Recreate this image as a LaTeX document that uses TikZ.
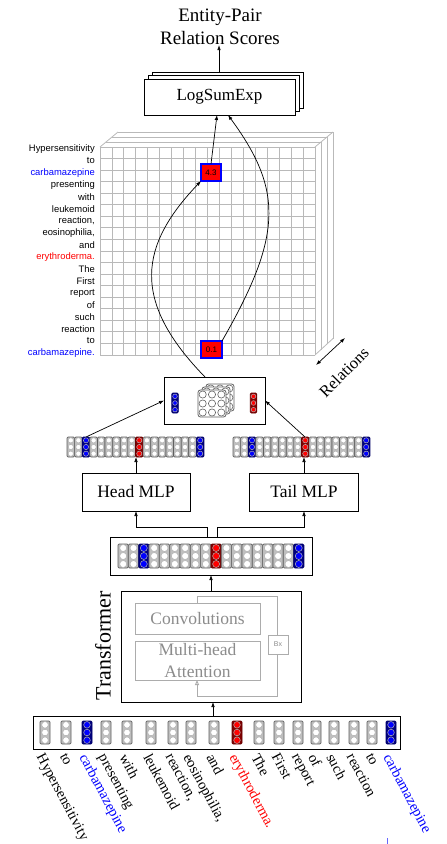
\documentclass[tikz,border=0pt]{standalone}
\usepackage{fontspec}
\setmainfont{Liberation Serif}
\newfontfamily\arialf{Liberation Sans}
\usetikzlibrary{arrows.meta}
\newcommand\mycell[8]{%
  \draw[fill=#6, draw=#8, line width=0.7pt, rounded corners=1.2pt] ({#1-#3/2},#2) rectangle ({#1+#3/2},{#2+#4});
  \foreach \kk in {1,3,5}{\draw[fill=#7, draw=gray!60, line width=0.5pt] ({#1},{#2+#4*\kk/6}) circle[radius=#5];}%
}
\newcommand\myrow[7]{% x0, ytop, w, h, r, count-1
  \foreach \i in {0,...,#6}{%
    \pgfmathsetmacro\cxx{#1+#3*(\i+0.5)}%
    \def\fc{gray!50}\def\dc{white}\def\bc{gray!75!black}%
    \ifnum\i=2 \def\fc{blue!50!black}\def\dc{blue}\def\bc{blue!40!black}\fi
    \ifnum\i=9 \def\fc{red!50!black}\def\dc{red}\def\bc{red!40!black}\fi
    \ifnum\i=17 \def\fc{blue!50!black}\def\dc{blue}\def\bc{blue!40!black}\fi
    \mycell{\cxx}{#2}{#3}{#4}{#5}{\fc}{\dc}{\bc}%
  }%
}
\begin{document}
\begin{tikzpicture}[x=1pt,y=-1pt,
  box/.style={draw, line width=0.9pt, fill=white, inner sep=0pt, outer sep=0pt},
  gbox/.style={draw=gray!65, line width=0.9pt, fill=white, inner sep=0pt, outer sep=0pt, text=gray!90},
  arr/.style={-{Latex[length=5pt,width=3.6pt]}, line width=0.7pt},
  gridl/.style={draw=gray!55, line width=0.8pt},
  glab/.style={anchor=east, inner sep=0pt, font=\arialf\fontsize{9.4}{11}\selectfont},
  blab/.style={anchor=north west, inner sep=0pt, rotate=-62, font=\fontsize{14.5}{16}\selectfont},
  sfont/.style={font=\fontsize{17.5}{21}\selectfont},
  redcell/.style={draw=blue, line width=1.6pt, fill=red, inner sep=0pt, outer sep=0pt, font=\arialf\fontsize{8}{9}\selectfont}
]
\useasboundingbox (0,0) rectangle (447,844);

% ---- title and LogSumExp
\node[align=center, font=\fontsize{19}{23}\selectfont, inner sep=0pt] (title) at (220,27) {Entity-Pair\\Relation Scores};
\draw[line width=0.9pt, fill=white] (152,72) rectangle (303,108);
\draw[line width=0.9pt, fill=white] (148,75.5) rectangle (299,111.5);
\node[box, minimum width=151pt, minimum height=36pt, font=\fontsize{17}{20}\selectfont] (lse) at (219.5,97) {LogSumExp};
\coordinate (lsetop) at (219,72);
\draw[arr] (lsetop) -- (title.south -| lsetop);

% ---- grid (relations cube)
\foreach \k in {3,2,1}{
  \draw[gridl] ({100+6*\k},{147-5*\k}) -- ({315+6*\k},{147-5*\k}) -- ({315+6*\k},{355-5.5*\k});
}
\draw[gridl] (100,147) -- (118,132);
\draw[gridl] (315,147) -- (333,132);
\draw[gridl] (315,355) -- (333,338.5);
\fill[white] (100,147) rectangle (315,355);
\foreach \i in {0,...,18}{\draw[gridl] ({100+\i*215/18},147) -- ({100+\i*215/18},355);}
\foreach \j in {0,...,18}{\draw[gridl] (100,{147+\j*208/18}) -- (315,{147+\j*208/18});}

\node[glab] (g1) at (95,149) {Hypersensitivity};
\node[glab] (g2) at (95,161) {to};
\node[glab, text=blue] (g3) at (95,173) {carbamazepine};
\node[glab] (g4) at (95,185) {presenting};
\node[glab] (g5) at (95,197) {with};
\node[glab] (g6) at (95,209) {leukemoid};
\node[glab] (g7) at (95,221) {reaction,};
\node[glab] (g8) at (95,233) {eosinophilia,};
\node[glab] (g9) at (95,245) {and};
\node[glab, text=red] (g10) at (95,257) {erythroderma.};
\node[glab] (g11) at (95,269) {The};
\node[glab] (g12) at (95,281) {First};
\node[glab] (g13) at (95,293) {report};
\node[glab] (g14) at (95,305) {of};
\node[glab] (g15) at (95,317) {such};
\node[glab] (g16) at (95,329) {reaction};
\node[glab] (g17) at (95,341) {to};
\node[glab, text=blue] (g18) at (95,353) {carbamazepine.};

\node[redcell, minimum width=20pt, minimum height=17pt] (c43) at (211,172.5) {4.3};
\node[redcell, minimum width=21pt, minimum height=17pt] (c01) at (211.5,349.5) {0.1};

% Relations
\coordinate (ra) at (316,365);
\coordinate (rb) at (345,338);
\draw[{Latex[length=5pt,width=3.6pt]}-{Latex[length=5pt,width=3.6pt]}, line width=0.7pt] (ra) -- (rb);
\node[rotate=45, font=\fontsize{16.5}{19}\selectfont, inner sep=0pt] (rel) at (344,372) {Relations};

% ---- middle box
\node[box, minimum width=101pt, minimum height=47pt] (mid) at (214.5,400.5) {};
\mycell{175}{393}{6.5}{20}{2.3}{blue!50!black}{blue}{blue!40!black}
\mycell{253.5}{393}{6.5}{20}{2.3}{red!50!black}{red}{red!40!black}
\foreach \o in {8,4,0}{
  \draw[fill=white, draw=gray!75!black, line width=0.8pt, rounded corners=2.5pt] ({198+\o},{390-0.75*\o}) rectangle ({226+\o},{417-0.75*\o});
  \foreach \a in {1,3,5}{\foreach \b in {1,3,5}{
    \draw[fill=white, draw=gray!75!black, line width=0.6pt] ({198+\o+28*\a/6},{390-0.75*\o+27*\b/6}) circle[radius=3.6];
  }}
}

% ---- curves to LogSumExp
\draw[arr] (c43.north) -- ([xshift=-2.5pt]lse.south);
\draw[arr] (c01.north east) .. controls (283,235) and (283,190) .. ([xshift=8.5pt]lse.south);
\draw[arr] ([xshift=-9.5pt]mid.north) .. controls (130,300) and (140,245) .. (c43.south west);

% ---- head / tail rows
\myrow{67}{437}{7.61}{20}{2.6}{17}{}
\myrow{233}{437}{7.61}{20}{2.6}{17}{}
\coordinate (hrtop) at (86,437);
\coordinate (trtop) at (305,437);
\coordinate (hrbot) at (136,457);
\coordinate (trbot) at (304,457);
\draw[arr] (hrtop) -- (mid.west);
\draw[arr] (trtop) -- (mid.east);

\node[box, minimum width=108pt, minimum height=38pt, sfont] (head) at (136,492) {Head MLP};
\node[box, minimum width=109pt, minimum height=38pt, sfont] (tail) at (304,492) {Tail MLP};
\draw[arr] (head.north) -- (hrbot);
\draw[arr] (tail.north) -- (trbot);

% ---- encoder output
\node[box, minimum width=202pt, minimum height=38pt] (enc) at (211,556) {};
\myrow{118}{544}{10.33}{24}{3.5}{17}{}
\draw[arr] ([xshift=-4pt]enc.north) -- ++(0,-10) -| (head.south);
\draw[arr] ([xshift=6pt]enc.north) -- ++(0,-10) -| (tail.south);

% ---- transformer
\node[box, minimum width=180pt, minimum height=111pt] (trans) at (211,646.5) {};
\node[rotate=90, font=\fontsize{22}{26}\selectfont, inner sep=0pt] (tlab) at (103,646) {Transformer};
\node[gbox, minimum width=125pt, minimum height=31pt, sfont] (conv) at (197.5,618.5) {Convolutions};
\node[gbox, minimum width=125pt, minimum height=39pt, align=center, font=\fontsize{17.5}{22}\selectfont] (attn) at (197.5,660.5) {Multi-head\\Attention};
\coordinate (l1) at (197,596);
\coordinate (l2) at (277,596);
\coordinate (l3) at (277,696);
\coordinate (l4) at (197,696);
\draw[draw=gray!65, line width=0.9pt] (conv.north -| l1) -- (l1) -- (l2) -- (l3) -- (l4);
\draw[draw=gray!65, line width=0.9pt, -{Triangle[open, length=5pt, width=4pt]}] (l4) -- (attn.south -| l4);
\node[gbox, minimum width=20pt, minimum height=19pt, font=\arialf\fontsize{7}{8}\selectfont] (bx) at (278,644.5) {Bx};
\draw[arr] (trans.north) -- (enc.south);

% ---- input
\node[box, minimum width=367pt, minimum height=33pt] (inp) at (216.5,732.5) {};
\draw[arr] ([xshift=-3.5pt]inp.north) -- ([xshift=2pt]trans.south);
\foreach \cx [count=\n from 0] in {45,66,87,106,127,151,173,191,214,237,259,279,298,316,334,354,372,391}{
  \def\fc{gray!50}\def\dc{white}\def\bc{gray!75!black}
  \ifnum\n=2 \def\fc{blue!50!black}\def\dc{blue}\def\bc{blue!40!black}\fi
  \ifnum\n=9 \def\fc{red!50!black}\def\dc{red}\def\bc{red!40!black}\fi
  \ifnum\n=17 \def\fc{blue!50!black}\def\dc{blue}\def\bc{blue!40!black}\fi
  \mycell{\cx}{721}{10}{23}{3.3}{\fc}{\dc}{\bc}
}
\node[blab] (b1) at (45,752) {Hypersensitivity};
\node[blab] (b2) at (67,752) {to};
\node[blab, text=blue] (b3) at (88,752) {carbamazepine};
\node[blab] (b4) at (107,752) {presenting};
\node[blab] (b5) at (128,752) {with};
\node[blab] (b6) at (152,752) {leukemoid};
\node[blab] (b7) at (174,752) {reaction,};
\node[blab] (b8) at (192,752) {eosinophilia,};
\node[blab] (b9) at (215,752) {and};
\node[blab, text=red] (b10) at (238,752) {erythroderma.};
\node[blab] (b11) at (260,752) {The};
\node[blab] (b12) at (280,752) {First};
\node[blab] (b13) at (299,752) {report};
\node[blab] (b14) at (317,752) {of};
\node[blab] (b15) at (335,752) {such};
\node[blab] (b16) at (355,752) {reaction};
\node[blab] (b17) at (373,752) {to};
\node[blab, text=blue] (b18) at (392,752) {carbamazepine};
\coordinate (mk1) at (387,838);
\coordinate (mk2) at (387,844);
\draw[blue!60, line width=0.5pt] (mk1) -- (mk2);
\end{tikzpicture}
\end{document}
